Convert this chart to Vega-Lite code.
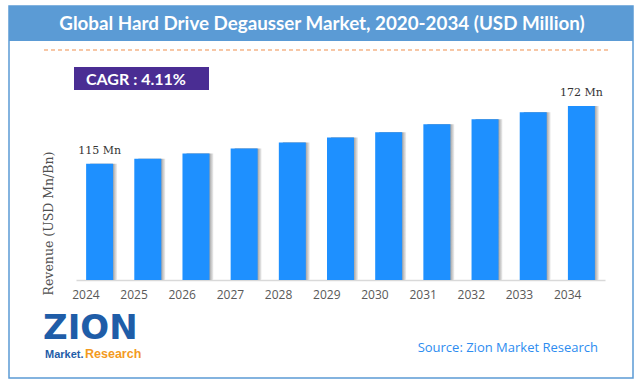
{
  "$schema": "https://vega.github.io/schema/vega-lite/v6.json",
  "autosize": {"type": "none"},
  "padding": {"left": 76, "top": 100, "right": 35, "bottom": 104},
  "width": 529,
  "height": 180,
  "background": "white",
  "config": {"view": {"stroke": null}},
  "datasets": {
    "market": [
      {"year": "2024", "value": 115, "label": "115 Mn"},
      {"year": "2025", "value": 120, "label": ""},
      {"year": "2026", "value": 125, "label": ""},
      {"year": "2027", "value": 130, "label": ""},
      {"year": "2028", "value": 136, "label": ""},
      {"year": "2029", "value": 141, "label": ""},
      {"year": "2030", "value": 146, "label": ""},
      {"year": "2031", "value": 154, "label": ""},
      {"year": "2032", "value": 159, "label": ""},
      {"year": "2033", "value": 166, "label": ""},
      {"year": "2034", "value": 172, "label": "172 Mn"}
    ],
    "deco": [{"title": "Global Hard Drive Degausser Market, 2020-2034 (USD Million)", "cagr": "CAGR : 4.11%", "source": "Source: Zion Market Research"}]
  },
  "layer": [
    {
      "data": {"name": "deco"},
      "mark": {"type": "rect", "fill": null, "stroke": "#5B9BD5", "strokeWidth": 1.5},
      "encoding": {"x": {"value": -67}, "x2": {"value": 557}, "y": {"value": -94}, "y2": {"value": 278}}
    },
    {
      "data": {"name": "deco"},
      "mark": {"type": "rect", "fill": "#5B9BD5"},
      "encoding": {"x": {"value": -67}, "x2": {"value": 557}, "y": {"value": -94}, "y2": {"value": -59}}
    },
    {
      "data": {"name": "deco"},
      "mark": {"type": "text", "color": "white", "font": "Lato", "fontWeight": "bold", "fontSize": 18.8, "align": "center", "baseline": "middle"},
      "encoding": {"text": {"field": "title"}, "x": {"value": 246}, "y": {"value": -76}}
    },
    {
      "data": {"name": "deco"},
      "mark": {"type": "rule", "color": "#F0904E", "strokeWidth": 1.2, "strokeDash": [4, 3]},
      "encoding": {"x": {"value": -32}, "x2": {"value": 535}, "y": {"value": -50}}
    },
    {
      "data": {"name": "deco"},
      "mark": {"type": "rect", "fill": "#4A2D93"},
      "encoding": {"x": {"value": -2}, "x2": {"value": 133}, "y": {"value": -33}, "y2": {"value": -10}}
    },
    {
      "data": {"name": "deco"},
      "mark": {"type": "text", "color": "white", "font": "Lato", "fontWeight": "bold", "fontSize": 16, "align": "left", "baseline": "middle"},
      "encoding": {"text": {"field": "cagr"}, "x": {"value": 10}, "y": {"value": -20}}
    },
    {
      "data": {"name": "deco"},
      "mark": {"type": "text", "color": "#2D8CF0", "font": "Open Sans", "fontSize": 13, "align": "right", "baseline": "middle"},
      "encoding": {"text": {"field": "source"}, "x": {"value": 522}, "y": {"value": 248}}
    },
    {
      "data": {"name": "deco"},
      "mark": {"type": "text", "color": "#1F5DA8", "font": "DejaVu Sans", "fontWeight": "bold", "fontSize": 34, "align": "left", "baseline": "alphabetic", "text": "ZION"},
      "encoding": {"x": {"value": -33}, "y": {"value": 239}}
    },
    {
      "data": {"name": "deco"},
      "mark": {"type": "text", "color": "#1F5DA8", "font": "Liberation Sans", "fontWeight": "bold", "fontSize": 11, "align": "left", "baseline": "alphabetic", "text": "Market."},
      "encoding": {"x": {"value": -31}, "y": {"value": 258}}
    },
    {
      "data": {"name": "deco"},
      "mark": {"type": "text", "color": "#F39A1E", "font": "Liberation Sans", "fontWeight": "bold", "fontSize": 12.5, "align": "left", "baseline": "alphabetic", "text": "Research"},
      "encoding": {"x": {"value": 9}, "y": {"value": 258}}
    },
    {
      "data": {"name": "market"},
      "mark": {"type": "bar", "xOffset": 4, "color": {"gradient": "linear", "x1": 0, "x2": 1, "y1": 0, "y2": 0, "stops": [{"offset": 0, "color": "#888888"}, {"offset": 0.8, "color": "#8a8a8a"}, {"offset": 1, "color": "#f2f2f2"}]}},
      "encoding": {
        "x": {"field": "year", "type": "ordinal", "scale": {"paddingInner": 0.44, "paddingOuter": 0.21}},
        "y": {"field": "value", "type": "quantitative", "scale": {"domain": [0, 178], "nice": false}}
      }
    },
    {
      "data": {"name": "market"},
      "mark": {"type": "bar", "color": "#1E90FF"},
      "encoding": {
        "x": {"field": "year", "type": "ordinal", "scale": {"paddingInner": 0.44, "paddingOuter": 0.21},
          "axis": {"title": null, "labelAngle": 0, "labelFont": "Open Sans", "labelFontSize": 12, "labelColor": "#595959", "labelPadding": 14, "ticks": false, "domainColor": "#D9D9D9", "domainWidth": 1.5}},
        "y": {"field": "value", "type": "quantitative", "scale": {"domain": [0, 178], "nice": false},
          "axis": {"title": "Revenue (USD Mn/Bn)", "labels": false, "ticks": false, "domain": false, "grid": false, "titleFont": "DejaVu Serif", "titleFontSize": 12.5, "titleFontWeight": "normal", "titleColor": "#505050", "titleX": -28, "titleY": 123, "titleAngle": 270, "titleBaseline": "middle", "titleAlign": "center"}}
      }
    },
    {
      "data": {"name": "market"},
      "mark": {"type": "text", "font": "DejaVu Serif", "fontSize": 11, "color": "#333333", "dy": -8, "baseline": "bottom"},
      "encoding": {
        "x": {"field": "year", "type": "ordinal"},
        "y": {"field": "value", "type": "quantitative"},
        "text": {"field": "label"}
      }
    }
  ]
}
